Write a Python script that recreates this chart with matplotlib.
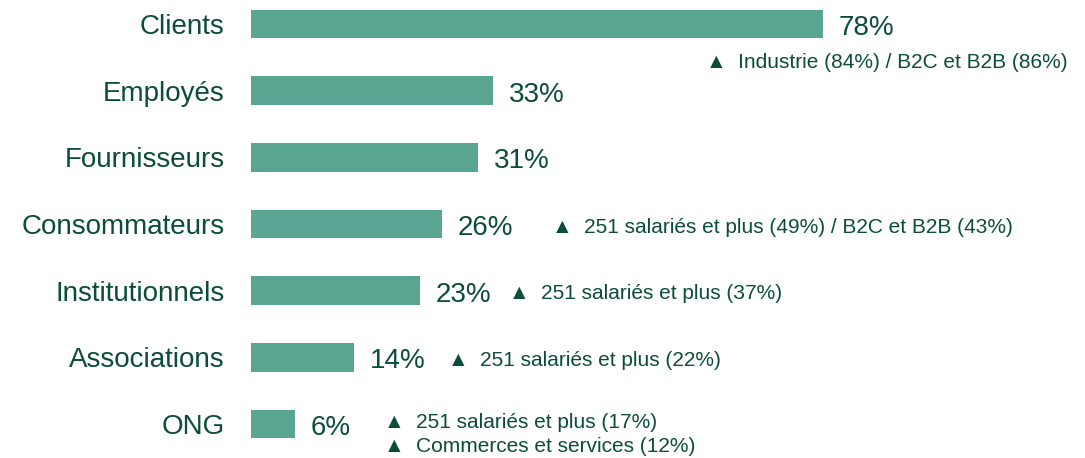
import matplotlib
import matplotlib.pyplot as plt

matplotlib.use('Agg')

categories = ['Clients', 'Employés', 'Fournisseurs', 'Consommateurs',
              'Institutionnels', 'Associations', 'ONG']
values = [78, 33, 31, 26, 23, 14, 6]
notes = [
    ['Industrie (84%) / B2C et B2B (86%)'],
    [],
    [],
    ['251 salariés et plus (49%) / B2C et B2B (43%)'],
    ['251 salariés et plus (37%)'],
    ['251 salariés et plus (22%)'],
    ['251 salariés et plus (17%)', 'Commerces et services (12%)'],
]

bar_color = '#5aa492'
text_color = '#0b4d3a'
fonts = ['Liberation Sans', 'DejaVu Sans']
plt.rcParams['font.family'] = fonts

# note offsets from the bar end, in pixels (x, y)
note_offsets = [(-117, -38), None, None, (110, -3), (89, -3), (94, -3), (89, 1)]

fig = plt.figure(figsize=(10.85, 4.58), dpi=100)
ax = fig.add_axes([251 / 1085, 0, 733 / 1085, 1])

y = list(range(len(categories)))
ax.barh(y, values, height=0.43, color=bar_color)
ax.set_xlim(0, 100)
ax.set_ylim(6.51, -0.36)

ax.set_yticks(y)
ax.set_yticklabels(categories, fontsize=20, color=text_color)
ax.tick_params(axis='y', length=0, pad=19)
ax.set_xticks([])
for s in ax.spines.values():
    s.set_visible(False)

px = 72 / 100  # pixels -> points
for i, v in enumerate(values):
    ax.annotate(f'{v}%', (v, i), xytext=(16 * px, -4 * px), textcoords='offset points',
                ha='left', va='center', fontsize=20, color=text_color)
    off = note_offsets[i]
    if off is None:
        continue
    for k, line in enumerate(notes[i]):
        ax.annotate(f'▲  {line}', (v, i),
                    xytext=(off[0] * px, (off[1] - 24 * k) * px),
                    textcoords='offset points', ha='left', va='center',
                    fontsize=15, color=text_color, annotation_clip=False)

fig.savefig('out.png', dpi=100)
